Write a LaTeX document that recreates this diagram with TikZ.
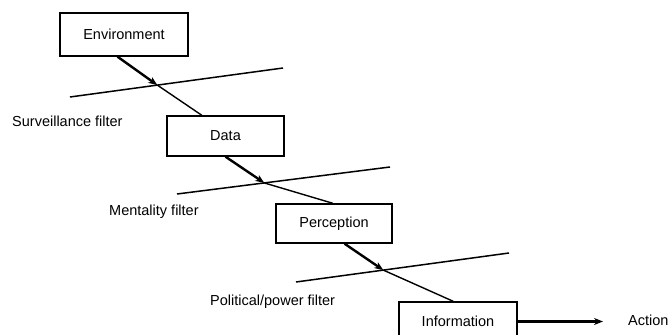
\documentclass[tikz,border=0pt]{standalone}
\usepackage{fontspec}
\setmainfont{Liberation Sans}
\usepackage{tikz}
\usetikzlibrary{arrows.meta, calc}

\tikzset{
  stage/.style={draw, line width=1.4pt, inner sep=0pt},
  filter/.style={line width=1.5pt},
  flow/.style={line width=2.4pt, -{Stealth[length=9pt, width=7pt]}},
  pass/.style={line width=1.4pt},
  caption/.style={anchor=west, inner sep=0pt},
}

\begin{document}
\begin{tikzpicture}[x=1pt, y=-1pt, font=\fontsize{14.5}{17}\selectfont]
    \useasboundingbox (0,0) rectangle (668,334);

    % the four stages
    \node[stage, minimum width=128pt, minimum height=43pt] (env) at (124,34.5) {Environment};
    \node[stage, minimum width=117pt, minimum height=40pt] (data) at (225.5,136) {Data};
    \node[stage, minimum width=116pt, minimum height=39pt] (perc) at (334,223.5) {Perception};
    \node[stage, minimum width=118pt, minimum height=39pt] (info) at (458,321.5) {Information};
    \node[caption] (action) at (628,320) {Action};

    % filter captions
    \node[caption] (survlbl) at (12,121) {Surveillance filter};
    \node[caption] (mentlbl) at (109,212) {Mentality filter};
    \node[caption] (pollbl) at (210,302) {Political/power filter};

    % filter lines and where the flow crosses them
    \coordinate (f1a) at (70,97);   \coordinate (f1b) at (283,68);
    \coordinate (f2a) at (177,194); \coordinate (f2b) at (390,167);
    \coordinate (f3a) at (296,282); \coordinate (f3b) at (509,253);
    \coordinate (x1) at ($(f1a)!0.41!(f1b)$);
    \coordinate (x2) at ($(f2a)!0.41!(f2b)$);
    \coordinate (x3) at ($(f3a)!0.41!(f3b)$);

    \draw[filter] (f1a) -- (f1b);
    \draw[filter] (f2a) -- (f2b);
    \draw[filter] (f3a) -- (f3b);

    % flow through the filters
    \draw[flow] ($(env.south west)!0.45!(env.south east)$) -- (x1);
    \draw[pass] (x1) -- ($(data.north west)!0.3!(data.north east)$);
    \draw[flow] (data.south) -- (x2);
    \draw[pass] (x2) -- ($(perc.north west)!0.49!(perc.north east)$);
    \draw[flow] ($(perc.south west)!0.59!(perc.south east)$) -- (x3);
    \draw[pass] (x3) -- ($(info.north west)!0.46!(info.north east)$);
    \draw[flow, line width=2.2pt, shorten >=25pt] (info.east) -- (info.east -| action.west);
\end{tikzpicture}
\end{document}
